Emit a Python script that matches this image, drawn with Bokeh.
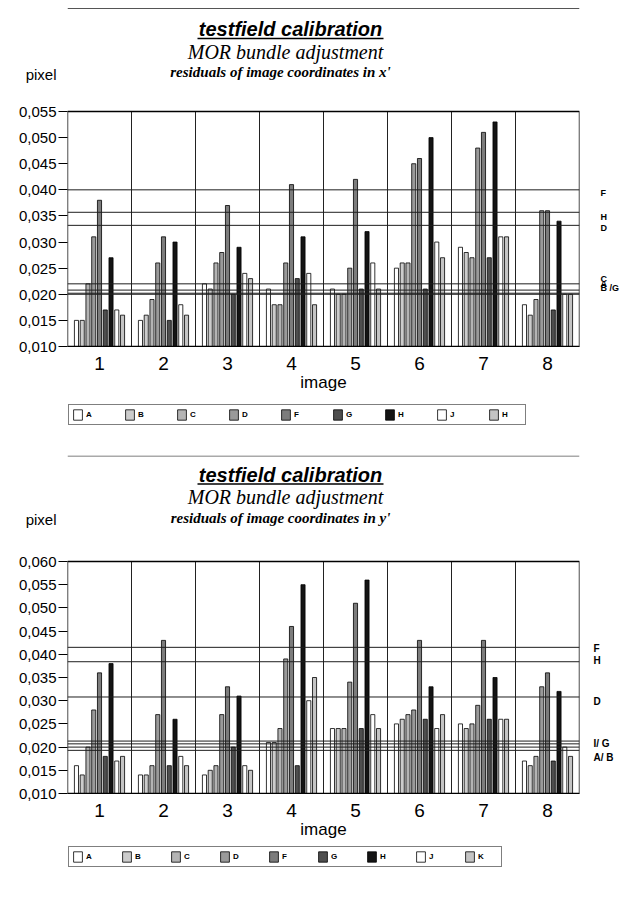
from bokeh.plotting import figure
from bokeh.models import (Range1d, FixedTicker, CustomJSTickFormatter, Label,
                          Legend, LegendItem, Span, LinearAxis)
from bokeh.layouts import column
from bokeh.embed import file_html
from bokeh.resources import INLINE

# ---------------- data ----------------
images = [1, 2, 3, 4, 5, 6, 7, 8]

# residuals of image coordinates in x' (pixel)
x_names = ["A", "B", "C", "D", "F", "G", "H", "J", "H"]
x_A = [0.015, 0.015, 0.022, 0.021, 0.021, 0.025, 0.029, 0.018]
x_B = [0.015, 0.016, 0.021, 0.018, 0.020, 0.026, 0.028, 0.016]
x_C = [0.022, 0.019, 0.026, 0.018, 0.020, 0.026, 0.027, 0.019]
x_D = [0.031, 0.026, 0.028, 0.026, 0.025, 0.045, 0.048, 0.036]
x_F = [0.038, 0.031, 0.037, 0.041, 0.042, 0.046, 0.051, 0.036]
x_G = [0.017, 0.015, 0.020, 0.023, 0.021, 0.021, 0.027, 0.017]
x_H = [0.027, 0.030, 0.029, 0.031, 0.032, 0.050, 0.053, 0.034]
x_J = [0.017, 0.018, 0.024, 0.024, 0.026, 0.030, 0.031, 0.020]
x_K = [0.016, 0.016, 0.023, 0.018, 0.021, 0.027, 0.031, 0.020]
x_ref_values = [0.0400, 0.0357, 0.0332, 0.0220, 0.0208, 0.0202, 0.0200]
x_ref_labels = ["F", "H", "D", "C", "A", "B /G"]
x_ref_label_values = [0.0400, 0.0357, 0.0332, 0.0220, 0.0208, 0.0202]
x_yticks = [0.010, 0.015, 0.020, 0.025, 0.030, 0.035, 0.040, 0.045, 0.050, 0.055]

# residuals of image coordinates in y' (pixel)
y_names = ["A", "B", "C", "D", "F", "G", "H", "J", "K"]
y_A = [0.016, 0.014, 0.014, 0.021, 0.024, 0.025, 0.025, 0.017]
y_B = [0.014, 0.014, 0.015, 0.021, 0.024, 0.026, 0.024, 0.016]
y_C = [0.020, 0.016, 0.016, 0.024, 0.024, 0.027, 0.025, 0.018]
y_D = [0.028, 0.027, 0.027, 0.039, 0.034, 0.028, 0.029, 0.033]
y_F = [0.036, 0.043, 0.033, 0.046, 0.051, 0.043, 0.043, 0.036]
y_G = [0.018, 0.016, 0.020, 0.016, 0.024, 0.026, 0.026, 0.017]
y_H = [0.038, 0.026, 0.031, 0.055, 0.056, 0.033, 0.035, 0.032]
y_J = [0.017, 0.018, 0.016, 0.030, 0.027, 0.024, 0.026, 0.020]
y_K = [0.018, 0.016, 0.015, 0.035, 0.024, 0.027, 0.026, 0.018]
y_ref_values = [0.0415, 0.0384, 0.0308, 0.0213, 0.0207, 0.0200, 0.0193]
y_ref_labels = ["F", "H", "D", "I/ G", "A/ B"]
y_ref_label_values = [0.0415, 0.0384, 0.0308, 0.0207, 0.0193]
y_yticks = [0.010, 0.015, 0.020, 0.025, 0.030, 0.035, 0.040, 0.045, 0.050, 0.055, 0.060]

# ---------------- style ----------------
SANS = "Liberation Sans"
SERIF = "Liberation Serif"
fills = ["#ffffff", "#cccccc", "#b4b4b4", "#9a9a9a", "#7c7c7c", "#4e4e4e", "#141414",
         "#ffffff", "#c4c4c4"]
W = 625
FL, FR = 67, 46          # left / right borders (axes)
GROUP_PX = (W - FL - FR) / 8.0
PITCH = 0.09
BAR_W = 0.064


def bar_x(i, n):
    return [g + (i - (n - 1) / 2) * PITCH for g in images]


def panel(series, y0, y1, yticks, ref_values, ref_labels, ref_label_values,
          label_dy, subtitle, H, box_top, box_bottom, ty, line_y, right_standoff,
          right_font):
    unit_px = (box_bottom - box_top) / (y1 - y0)
    y_end = y1 + box_top / unit_px           # frame reaches the top of the figure

    def dx(fx):
        return 0.5 + (fx - FL) / GROUP_PX

    def dy(fy):
        return y_end - fy / unit_px

    p = figure(width=W, height=H, output_backend="svg", toolbar_location=None,
               x_range=Range1d(0.5, 8.5), y_range=Range1d(y0, y_end),
               min_border_left=FL, min_border_right=FR, min_border_top=0,
               min_border_bottom=H - box_bottom, title=None)
    p.outline_line_color = None
    p.grid.grid_line_color = None

    # page rule, titles
    p.segment(x0=[0.5], y0=[dy(line_y)], x1=[8.5], y1=[dy(line_y)], line_color="#555555",
              line_width=1)
    p.add_layout(Label(x=dx(290), y=dy(ty), text="testfield calibration", text_align="center",
                       text_baseline="middle", text_font=SANS, text_font_size="20px",
                       text_font_style="bold italic", text_color="black"))
    p.segment(x0=[dx(197)], y0=[dy(ty + 9.5)], x1=[dx(383)], y1=[dy(ty + 9.5)],
              line_color="black", line_width=1.6)
    p.add_layout(Label(x=dx(285), y=dy(ty + 22.5), text="MOR bundle adjustment",
                       text_align="center", text_baseline="middle", text_font=SERIF,
                       text_font_size="20px", text_font_style="italic", text_color="black"))
    p.add_layout(Label(x=dx(280), y=dy(ty + 43), text=subtitle, text_align="center",
                       text_baseline="middle", text_font=SERIF, text_font_size="15px",
                       text_font_style="bold italic", text_color="black"))

    # vertical separators between image groups
    seps = [g + 0.5 for g in images[:-1]]
    p.segment(x0=seps, y0=[y0] * len(seps), x1=seps, y1=[y1] * len(seps),
              line_color="#222222", line_width=1)

    # reference lines (means)
    for v in ref_values:
        p.add_layout(Span(location=v, dimension="width", line_color="#1e1e1e", line_width=1))

    # bars
    n = len(series)
    for i, (vals, col) in enumerate(zip(series, fills)):
        p.vbar(x=bar_x(i, n), top=vals, bottom=y0, width=BAR_W, fill_color=col,
               line_color="black", line_width=0.8)

    # chart box
    p.quad(left=[0.5], right=[8.5], bottom=[y0], top=[y1], fill_color=None,
           line_color="black", line_width=1.4)

    # left axis (the unit "pixel" is written as its top label)
    pixel_pos = dy(ty + 45)
    p.yaxis.ticker = FixedTicker(ticks=yticks + [pixel_pos], minor_ticks=yticks)
    p.yaxis.formatter = CustomJSTickFormatter(
        args=dict(pp=pixel_pos),
        code="return Math.abs(tick - pp) < 1e-9 ? 'pixel' : tick.toFixed(3).replace('.', ',');")
    p.yaxis.major_label_text_font = SANS
    p.yaxis.major_label_text_font_size = "15px"
    p.yaxis.major_label_text_color = "black"
    p.yaxis.major_tick_out = 9
    p.yaxis.major_tick_in = 0
    p.yaxis.major_tick_line_color = None
    p.yaxis.minor_tick_out = 9
    p.yaxis.minor_tick_in = 0
    p.yaxis.minor_tick_line_color = "black"
    p.yaxis.major_label_standoff = 2
    p.yaxis.axis_line_color = None

    # bottom axis
    p.xaxis.ticker = FixedTicker(ticks=images)
    p.xaxis.major_label_text_font = SANS
    p.xaxis.major_label_text_font_size = "19px"
    p.xaxis.major_label_text_color = "black"
    p.xaxis.major_tick_line_color = None
    p.xaxis.minor_tick_line_color = None
    p.xaxis.major_label_standoff = 4
    p.xaxis.axis_label = "image"
    p.xaxis.axis_label_text_font = SANS
    p.xaxis.axis_label_text_font_size = "17px"
    p.xaxis.axis_label_text_font_style = "normal"
    p.xaxis.axis_label_text_color = "black"
    p.xaxis.axis_label_standoff = 0
    p.xaxis.axis_line_color = "black"

    # right axis carrying the names of the reference lines
    pos = [v - d / unit_px for v, d in zip(ref_label_values, label_dy)]
    ra = LinearAxis(ticker=FixedTicker(ticks=pos),
                    formatter=CustomJSTickFormatter(
                        args=dict(vals=pos, labs=ref_labels),
                        code="const i = vals.findIndex(v => Math.abs(v - tick) < 1e-9);"
                             "return i >= 0 ? labs[i] : '';"),
                    axis_line_color=None, major_tick_line_color=None,
                    minor_tick_line_color=None, major_tick_out=0, major_tick_in=0,
                    major_label_standoff=right_standoff,
                    major_label_text_font=SANS, major_label_text_font_size=right_font,
                    major_label_text_font_style="bold", major_label_text_color="black")
    p.add_layout(ra, "right")
    return p


def legend_strip(names, H, top_off, spacing):
    q = figure(width=W, height=H, output_backend="svg", toolbar_location=None,
               x_range=Range1d(0, 1), y_range=Range1d(0, 1), x_axis_type=None,
               y_axis_type=None, min_border_left=FL, min_border_right=FR,
               min_border_top=0, min_border_bottom=0, title=None)
    q.outline_line_color = None
    q.grid.grid_line_color = None
    # swatch renderers kept just below the visible range; only their legend glyphs show
    rs = [q.vbar(x=[0.5], top=[-2], bottom=-3, width=0.1, fill_color=c, line_color="black",
                 line_width=0.8) for c in fills]
    items = [LegendItem(label=nm, renderers=[r]) for nm, r in zip(names, rs)]
    box_h = 13 + 2 * 3
    leg = Legend(items=items, orientation="horizontal", location=(1, H - top_off - box_h),
                 glyph_width=11, glyph_height=13, label_standoff=3, label_width=20,
                 spacing=spacing, padding=3, margin=0,
                 border_line_color="black", border_line_width=1,
                 label_text_font=SANS, label_text_font_size="8px",
                 label_text_font_style="bold", label_text_color="black",
                 background_fill_color="white", background_fill_alpha=1)
    q.add_layout(leg)
    return q


p1 = panel([x_A, x_B, x_C, x_D, x_F, x_G, x_H, x_J, x_K],
           0.010, 0.055, x_yticks, x_ref_values, x_ref_labels, x_ref_label_values,
           [3, 4.5, 3, -5, -6.5, -5], "residuals of image coordinates in x'",
           404, 111, 346, 28.5, 8, 21, "9px")
l1 = legend_strip(x_names, 51, 2, 18)
p2 = panel([y_A, y_B, y_C, y_D, y_F, y_G, y_H, y_J, y_K],
           0.010, 0.060, y_yticks, y_ref_values, y_ref_labels, y_ref_label_values,
           [1, -1.5, 5, 0, 7], "residuals of image coordinates in y'",
           390, 106, 338, 19, 0.5, 14, "10px")
l2 = legend_strip(y_names, 53, 3, 15)

layout = column(p1, l1, p2, l2, spacing=0)
open("out.html", "w").write(file_html(layout, INLINE))
